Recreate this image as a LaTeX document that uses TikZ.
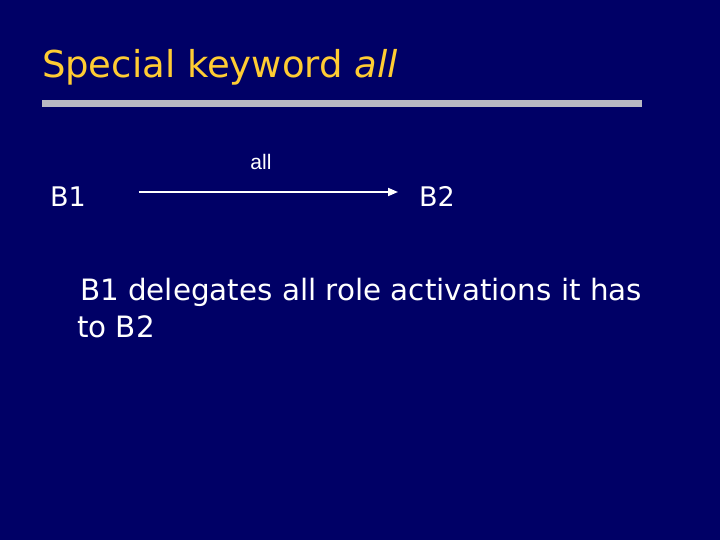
\documentclass[tikz,border=0pt]{standalone}
\usepackage{fontspec}
\setmainfont{DejaVu Sans}
\newfontfamily\labelfont{Liberation Sans}
\usetikzlibrary{arrows.meta, positioning}

\definecolor{slidebg}{RGB}{0,0,102}
\definecolor{titlegold}{RGB}{255,204,51}
\definecolor{rulegray}{RGB}{185,185,195}

\begin{document}
\begin{tikzpicture}[x=1pt, y=-1pt, inner sep=0pt, outer sep=0pt]

% Styles
        \tikzstyle{title}=[anchor=base west, text=titlegold, font=\fontsize{37}{44}\selectfont]
        \tikzstyle{party}=[anchor=base west, text=white, font=\fontsize{27}{32}\selectfont]
        \tikzstyle{body}=[anchor=base west, text=white, align=left, font=\fontsize{29.4}{37}\selectfont]
        \tikzstyle{arrow}=[-{Triangle[length=10pt, width=8pt]}, white, line width=1.8pt]

% Background
        \fill[slidebg] (0,0) rectangle (720,540);
        \useasboundingbox (0,0) rectangle (720,540);

% Title
        \node[title] (title) at (42,78) {Special keyword \textit{all}};
        \fill[rulegray] (42,100) rectangle (642,107);

% Nodes
        \node[party] (b1) at (50,207) {B1};
        \node[party] (b2) at (419,207) {B2};
        \node[anchor=base, text=white, font=\labelfont\fontsize{21}{24}\selectfont] (lbl) at (261,170) {all};

% Connections
        \draw[arrow, shorten <=53pt, shorten >=21pt] (b1.east |- 0,192) -- (b2.west |- 0,192);

% Text (base anchor sits on the last line)
        \node[body] (desc) at (80,337) {B1 delegates all role activations it has\\\hspace*{-3pt}to B2};

\end{tikzpicture}
\end{document}
